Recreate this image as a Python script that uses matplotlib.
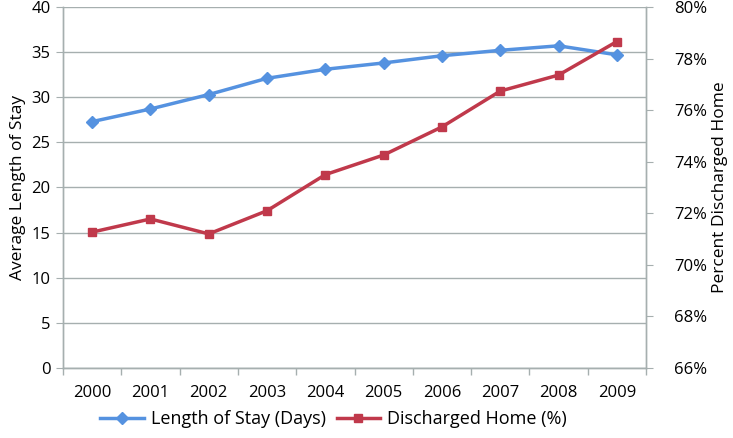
import matplotlib
matplotlib.use("Agg")
import matplotlib.pyplot as plt
import numpy as np
from matplotlib.lines import Line2D

years = ["2000", "2001", "2002", "2003", "2004", "2005", "2006", "2007", "2008", "2009"]
length_of_stay = [27.3, 28.7, 30.3, 32.1, 33.1, 33.8, 34.6, 35.2, 35.7, 34.7]
discharged_home = [71.27, 71.78, 71.2, 72.1, 73.5, 74.26, 75.35, 76.74, 77.36, 78.66]

plt.rcParams['font.family'] = ['Open Sans', 'DejaVu Sans']

fig = plt.figure(figsize=(7.33, 4.38), dpi=100)
ax = fig.add_axes([63/733, 1 - 368/438, (646-63)/733, (368-7)/438])
ax2 = ax.twinx()

x = np.arange(len(years))
blue = "#5592E0"
red = "#C0394B"
grid_c = "#A6AFAF"

ax.plot(x, length_of_stay, color=blue, lw=2.5, marker='D', ms=6, zorder=3)
ax2.plot(x, discharged_home, color=red, lw=2.5, marker='s', ms=5.5, zorder=3)

ax.set_xlim(-0.5, len(years) - 0.5)
ax.set_ylim(0, 40)
ax.set_yticks(range(0, 41, 5))
ax2.set_ylim(66, 80)
ax2.set_yticks(range(66, 81, 2))
ax2.set_yticklabels([f"{v}%" for v in range(66, 81, 2)])

ax.yaxis.grid(True, color=grid_c, lw=1)
ax.set_axisbelow(True)

ax.set_xticks(x)
ax.set_xticklabels(years)
ax.set_xticks(np.arange(-0.5, len(years), 1), minor=True)
ax.tick_params(axis='x', which='major', length=0, pad=12, labelsize=12)
ax.tick_params(axis='x', which='minor', length=5, color=grid_c, width=1)
ax.tick_params(axis='y', length=5, color=grid_c, labelsize=12, pad=4)
ax2.tick_params(axis='y', length=5, color=grid_c, labelsize=12, pad=15)

for a in (ax, ax2):
    a.spines['top'].set_visible(False)
    for s in ('left', 'right', 'bottom'):
        a.spines[s].set_color(grid_c)
        a.spines[s].set_linewidth(1)

ax.set_ylabel("Average Length of Stay", fontsize=12.5, labelpad=4)
ax2.set_ylabel("Percent Discharged Home", fontsize=12.5, labelpad=4)

handles = [
    Line2D([], [], color=blue, lw=2.5, marker='D', ms=6),
    Line2D([], [], color=red, lw=2.5, marker='s', ms=5.5),
]
fig.legend(handles, ["Length of Stay (Days)", "Discharged Home (%)"],
           loc='center', bbox_to_anchor=(0.455, 1 - 419/438), ncol=2,
           frameon=False, fontsize=13, handlelength=2.4, columnspacing=0.6,
           handletextpad=0.4)

fig.savefig("out.png", dpi=100)
